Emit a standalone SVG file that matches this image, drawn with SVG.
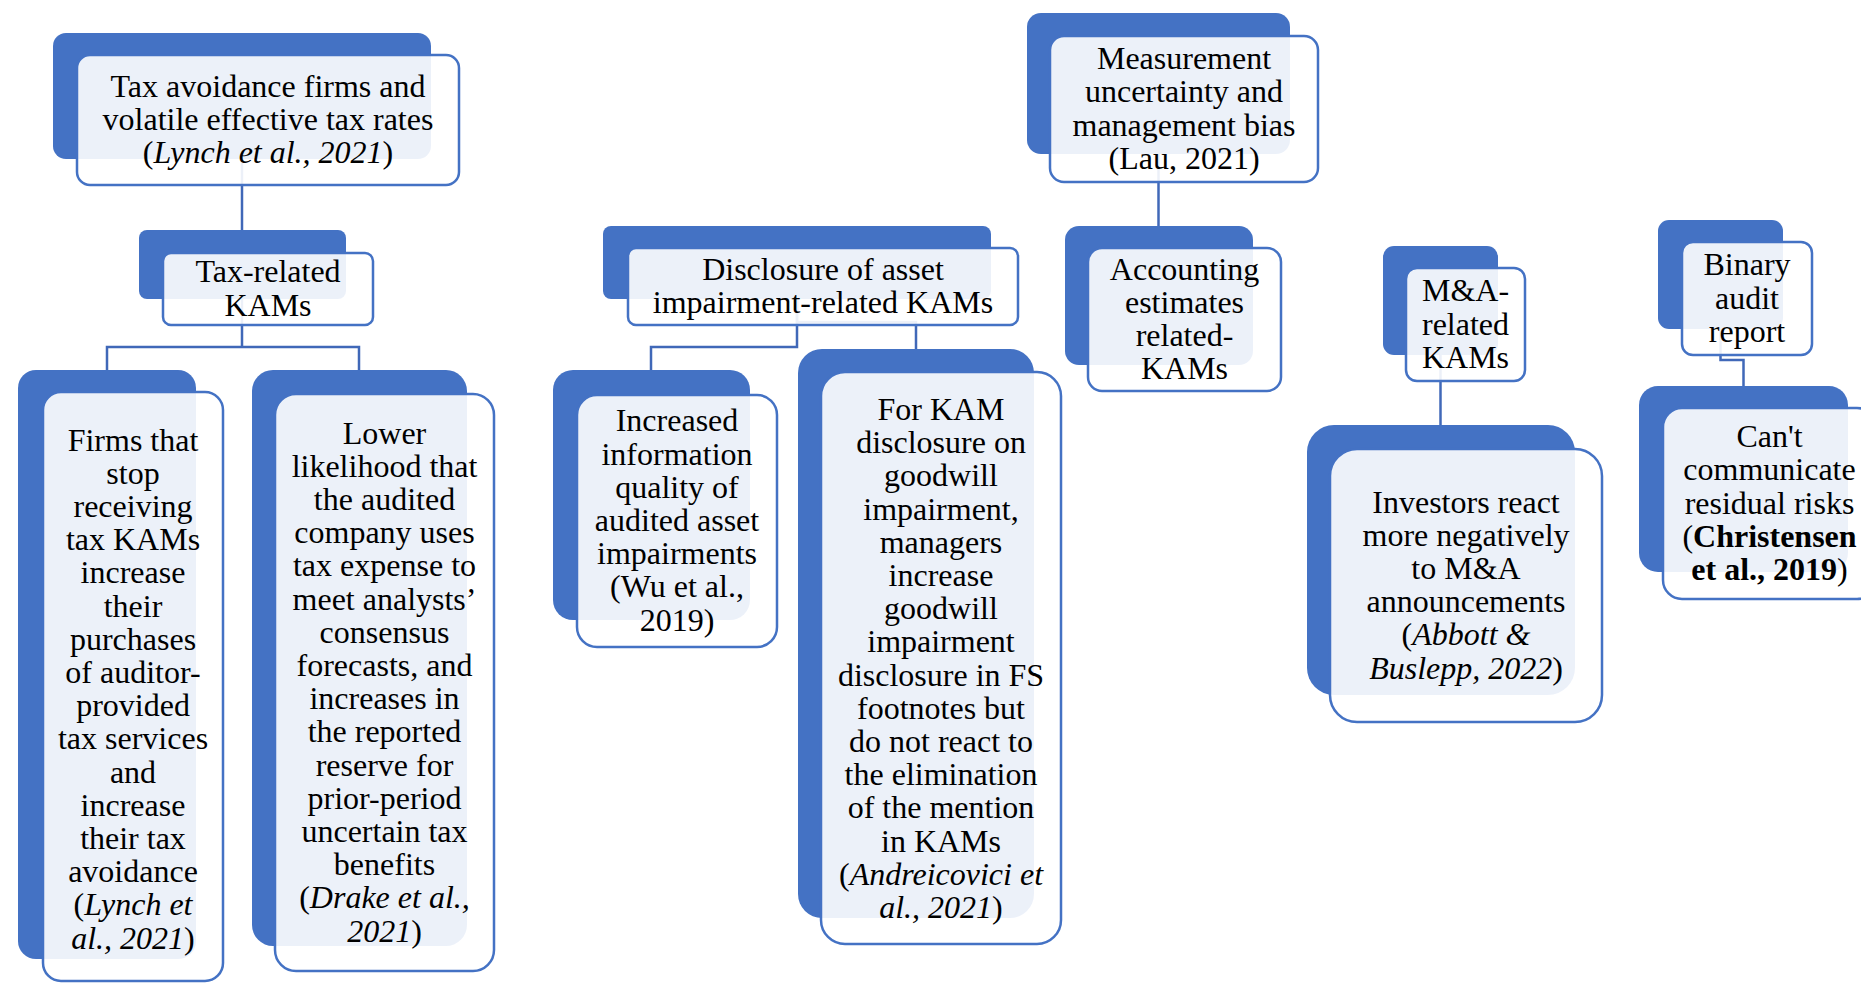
<svg xmlns="http://www.w3.org/2000/svg" width="1861" height="983" viewBox="0 0 1861 983">
<style>
.back{fill:#4472C4}
.front{fill:#FFFFFF;fill-opacity:0.9;stroke:#4472C4;stroke-width:2.5}
.conn{fill:none;stroke:#4068B8;stroke-width:2.5}
.t{font-family:"Liberation Serif","Times New Roman",serif;font-size:32px;text-anchor:middle;fill:#000}
.i{font-style:italic}
.b{font-weight:bold}
</style>
<rect x="0" y="0" width="1861" height="983" fill="#FFFFFF"/>
<g id="connectors">
<path class="conn" d="M242,159 V230"/>
<path class="conn" d="M242,299 V347 M107,370 V347 H359 V370"/>
<path class="conn" d="M797,299 V347 H651 V370"/>
<path class="conn" d="M797,299 V322 H916 V349"/>
<path class="conn" d="M1158.5,154 V226"/>
<path class="conn" d="M1440.5,355 V425"/>
<path class="conn" d="M1720.5,329 V360 H1743.5 V386"/>
</g>
<g id="node-tax-avoidance">
<rect class="back" x="53" y="33" width="378" height="126" rx="13"/>
<rect class="front" x="77" y="55" width="382" height="130" rx="13"/>
<text class="t"><tspan x="268" y="96.8">Tax avoidance firms and</tspan><tspan x="268" y="130">volatile effective tax rates</tspan><tspan x="268" y="163.2">(<tspan class="i">Lynch et al., 2021</tspan>)</tspan></text>
</g>
<g id="node-tax-related">
<rect class="back" x="139" y="230" width="207" height="69" rx="8"/>
<rect class="front" x="163" y="253" width="210" height="72" rx="8"/>
<text class="t"><tspan x="268" y="282.4">Tax-related</tspan><tspan x="268" y="315.6">KAMs</tspan></text>
</g>
<g id="node-firms">
<rect class="back" x="18" y="370" width="178" height="589" rx="18"/>
<rect class="front" x="43" y="392" width="180" height="589" rx="18"/>
<text class="t"><tspan x="133" y="450.5">Firms that</tspan><tspan x="133" y="483.7">stop</tspan><tspan x="133" y="516.9">receiving</tspan><tspan x="133" y="550.1">tax KAMs</tspan><tspan x="133" y="583.3">increase</tspan><tspan x="133" y="616.5">their</tspan><tspan x="133" y="649.7">purchases</tspan><tspan x="133" y="682.9">of auditor-</tspan><tspan x="133" y="716.1">provided</tspan><tspan x="133" y="749.3">tax services</tspan><tspan x="133" y="782.5">and</tspan><tspan x="133" y="815.7">increase</tspan><tspan x="133" y="848.9">their tax</tspan><tspan x="133" y="882.1">avoidance</tspan><tspan x="133" y="915.3">(<tspan class="i">Lynch et</tspan></tspan><tspan x="133" y="948.5"><tspan class="i">al., 2021</tspan>)</tspan></text>
</g>
<g id="node-lower">
<rect class="back" x="252" y="370" width="215" height="576" rx="21"/>
<rect class="front" x="275" y="394" width="219" height="577" rx="21"/>
<text class="t"><tspan x="384.5" y="443.5">Lower</tspan><tspan x="384.5" y="476.7">likelihood that</tspan><tspan x="384.5" y="509.9">the audited</tspan><tspan x="384.5" y="543.1">company uses</tspan><tspan x="384.5" y="576.3">tax expense to</tspan><tspan x="384.5" y="609.5">meet analysts’</tspan><tspan x="384.5" y="642.7">consensus</tspan><tspan x="384.5" y="675.9">forecasts, and</tspan><tspan x="384.5" y="709.1">increases in</tspan><tspan x="384.5" y="742.3">the reported</tspan><tspan x="384.5" y="775.5">reserve for</tspan><tspan x="384.5" y="808.7">prior-period</tspan><tspan x="384.5" y="841.9">uncertain tax</tspan><tspan x="384.5" y="875.1">benefits</tspan><tspan x="384.5" y="908.3">(<tspan class="i">Drake et al.,</tspan></tspan><tspan x="384.5" y="941.5"><tspan class="i">2021</tspan>)</tspan></text>
</g>
<g id="node-disclosure">
<rect class="back" x="603" y="226" width="388" height="73" rx="8"/>
<rect class="front" x="628" y="248" width="390" height="77" rx="8"/>
<text class="t"><tspan x="823" y="279.9">Disclosure of asset</tspan><tspan x="823" y="313.1">impairment-related KAMs</tspan></text>
</g>
<g id="node-increased">
<rect class="back" x="553" y="370" width="197" height="250" rx="20"/>
<rect class="front" x="577" y="395" width="200" height="252" rx="20"/>
<text class="t"><tspan x="677" y="431.4">Increased</tspan><tspan x="677" y="464.6">information</tspan><tspan x="677" y="497.8">quality of</tspan><tspan x="677" y="531">audited asset</tspan><tspan x="677" y="564.2">impairments</tspan><tspan x="677" y="597.4">(Wu et al.,</tspan><tspan x="677" y="630.6">2019)</tspan></text>
</g>
<g id="node-for-kam">
<rect class="back" x="798" y="349" width="236" height="569" rx="24"/>
<rect class="front" x="821" y="372" width="240" height="572" rx="24"/>
<text class="t"><tspan x="941" y="420">For KAM</tspan><tspan x="941" y="453.2">disclosure on</tspan><tspan x="941" y="486.4">goodwill</tspan><tspan x="941" y="519.6">impairment,</tspan><tspan x="941" y="552.8">managers</tspan><tspan x="941" y="586">increase</tspan><tspan x="941" y="619.2">goodwill</tspan><tspan x="941" y="652.4">impairment</tspan><tspan x="941" y="685.6">disclosure in FS</tspan><tspan x="941" y="718.8">footnotes but</tspan><tspan x="941" y="752">do not react to</tspan><tspan x="941" y="785.2">the elimination</tspan><tspan x="941" y="818.4">of the mention</tspan><tspan x="941" y="851.6">in KAMs</tspan><tspan x="941" y="884.8">(<tspan class="i">Andreicovici et</tspan></tspan><tspan x="941" y="918"><tspan class="i">al., 2021</tspan>)</tspan></text>
</g>
<g id="node-measurement">
<rect class="back" x="1027" y="13" width="263" height="141" rx="14"/>
<rect class="front" x="1050" y="36" width="268" height="146" rx="14"/>
<text class="t"><tspan x="1184" y="69.2">Measurement</tspan><tspan x="1184" y="102.4">uncertainty and</tspan><tspan x="1184" y="135.6">management bias</tspan><tspan x="1184" y="168.8">(Lau, 2021)</tspan></text>
</g>
<g id="node-accounting">
<rect class="back" x="1065" y="226" width="188" height="139" rx="14"/>
<rect class="front" x="1088" y="248" width="193" height="143" rx="14"/>
<text class="t"><tspan x="1184.5" y="279.7">Accounting</tspan><tspan x="1184.5" y="312.9">estimates</tspan><tspan x="1184.5" y="346.1">related-</tspan><tspan x="1184.5" y="379.3">KAMs</tspan></text>
</g>
<g id="node-ma">
<rect class="back" x="1383" y="246" width="115" height="109" rx="11"/>
<rect class="front" x="1406" y="268" width="119" height="113" rx="11"/>
<text class="t"><tspan x="1465.5" y="301.3">M&amp;A-</tspan><tspan x="1465.5" y="334.5">related</tspan><tspan x="1465.5" y="367.7">KAMs</tspan></text>
</g>
<g id="node-investors">
<rect class="back" x="1307" y="425" width="268" height="270" rx="27"/>
<rect class="front" x="1330" y="449" width="272" height="273" rx="27"/>
<text class="t"><tspan x="1466" y="512.5">Investors react</tspan><tspan x="1466" y="545.7">more negatively</tspan><tspan x="1466" y="578.9">to M&amp;A</tspan><tspan x="1466" y="612.1">announcements</tspan><tspan x="1466" y="645.3">(<tspan class="i">Abbott &amp;</tspan></tspan><tspan x="1466" y="678.5"><tspan class="i">Buslepp, 2022</tspan>)</tspan></text>
</g>
<g id="node-binary">
<rect class="back" x="1658" y="220" width="125" height="109" rx="11"/>
<rect class="front" x="1682" y="242" width="130" height="113" rx="11"/>
<text class="t"><tspan x="1747" y="275.3">Binary</tspan><tspan x="1747" y="308.5">audit</tspan><tspan x="1747" y="341.7">report</tspan></text>
</g>
<g id="node-cant">
<rect class="back" x="1639" y="386" width="209" height="186" rx="19"/>
<rect class="front" x="1663" y="408" width="213" height="191" rx="19"/>
<text class="t"><tspan x="1769.5" y="447.1">Can't</tspan><tspan x="1769.5" y="480.3">communicate</tspan><tspan x="1769.5" y="513.5">residual risks</tspan><tspan x="1769.5" y="546.7">(<tspan class="b">Christensen</tspan></tspan><tspan x="1769.5" y="579.9"><tspan class="b">et al., 2019</tspan>)</tspan></text>
</g>
</svg>
